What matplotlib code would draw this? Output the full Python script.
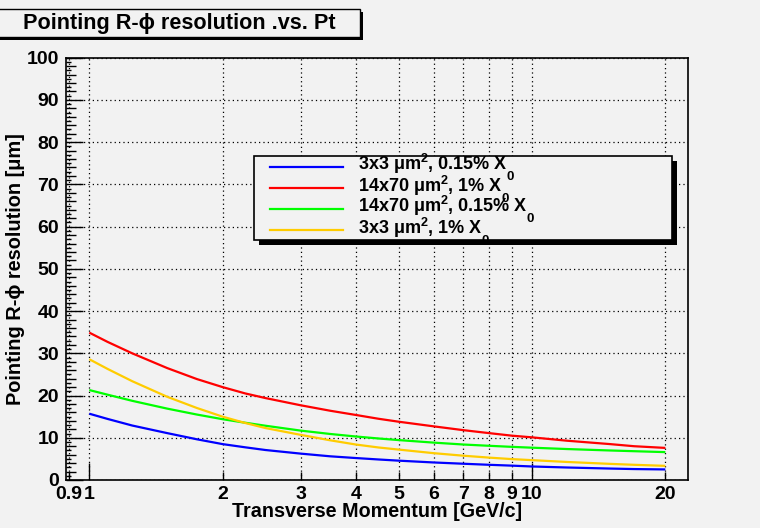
import matplotlib
matplotlib.use("Agg")
import matplotlib.pyplot as plt
from matplotlib.patches import Rectangle
from matplotlib.lines import Line2D
from matplotlib.ticker import FixedLocator, FixedFormatter, NullFormatter

plt.rcParams['font.family'] = ['Liberation Sans', 'DejaVu Sans']
plt.rcParams['font.weight'] = 'bold'
plt.rcParams['mathtext.fontset'] = 'custom'
plt.rcParams['mathtext.bf'] = 'Liberation Sans:bold'
plt.rcParams['mathtext.rm'] = 'Liberation Sans:bold'
plt.rcParams['mathtext.default'] = 'bf'

# ---- data ----
pt = [1, 1.1, 1.25, 1.5, 1.75, 2, 2.25, 2.5, 3, 3.5, 4, 4.5, 5, 6, 7, 8, 9, 10, 12, 15, 17, 20]
res_3x3_015 = [15.7, 14.46, 12.9, 11.1, 9.64, 8.5, 7.74, 7.1, 6.25, 5.61, 5.2, 4.86, 4.58, 4.15, 3.85,
               3.6, 3.4, 3.2, 2.96, 2.71, 2.59, 2.5]
res_14x70_1 = [34.9, 32.7, 30.0, 26.5, 23.9, 22.0, 20.5, 19.4, 17.7, 16.4, 15.4, 14.5, 13.8, 12.7, 11.8,
               11.1, 10.5, 10.1, 9.3, 8.5, 8.0, 7.6]
res_14x70_015 = [21.3, 20.2, 18.75, 16.9, 15.5, 14.4, 13.56, 12.85, 11.7, 10.9, 10.3, 9.83, 9.45, 8.85, 8.4,
                 8.1, 7.85, 7.65, 7.33, 6.99, 6.82, 6.6]
res_3x3_1 = [28.6, 26.3, 23.4, 19.7, 17.05, 15.0, 13.5, 12.3, 10.7, 9.4, 8.4, 7.7, 7.2, 6.35, 5.75,
             5.3, 4.95, 4.7, 4.27, 3.82, 3.6, 3.35]

series_vals = [res_3x3_015, res_14x70_1, res_14x70_015, res_3x3_1]
series_colors = ['#0000ff', '#ff0000', '#00ff00', '#ffcc00']
legend_main = [r"3x3 μm$^2$, 0.15% X", r"14x70 μm$^2$, 1% X", r"14x70 μm$^2$, 0.15% X", r"3x3 μm$^2$, 1% X"]
legend_sub = ['0', '0', '0', '0']

x_tick_vals = [0.9, 1, 2, 3, 4, 5, 6, 7, 8, 9, 10, 20]
x_tick_labels = ['0.9', '1', '2', '3', '4', '5', '6', '7', '8', '9', '10', '20']
y_tick_vals = [0, 10, 20, 30, 40, 50, 60, 70, 80, 90, 100]

title = "Pointing R-ϕ resolution .vs. Pt"
xlabel = "Transverse Momentum [GeV/c]"
ylabel = "Pointing R-ϕ resolution [μm]"

# ---- figure ----
W, H = 760, 528
BG = '#f2f2f2'
fig = plt.figure(figsize=(W / 100, H / 100), dpi=100, facecolor=BG)

def fx(px):
    return px / W

def fy(py):
    return 1 - py / H

L, R, T, B = 66, 688, 57.7, 480
ax = fig.add_axes([fx(L), fy(B), fx(R) - fx(L), fy(T) - fy(B)])
ax.set_facecolor(BG)

for vals, col in zip(series_vals, series_colors):
    ax.plot(pt, vals, color=col, lw=1.6, solid_capstyle='butt', solid_joinstyle='round')

ax.set_xscale('log')
ax.set_xlim(0.886, 22.5)
ax.set_ylim(0, 100)

# x ticks
major_x = [1, 10]
minor_x = [v for v in x_tick_vals if v not in major_x]
ax.xaxis.set_major_locator(FixedLocator(major_x))
ax.xaxis.set_major_formatter(FixedFormatter(['1', '10']))
ax.xaxis.set_minor_locator(FixedLocator(minor_x))
ax.xaxis.set_minor_formatter(FixedFormatter([x_tick_labels[x_tick_vals.index(v)] for v in minor_x]))

ax.yaxis.set_major_locator(FixedLocator(y_tick_vals))
ax.yaxis.set_minor_locator(FixedLocator(list(range(2, 100, 2))))
ax.yaxis.set_minor_formatter(NullFormatter())

ax.tick_params(axis='both', which='both', direction='in', top=False, right=False,
               colors='black', width=1.0)
ax.tick_params(axis='x', which='both', labelsize=14, pad=4)
ax.tick_params(axis='x', which='major', length=12)
ax.tick_params(axis='x', which='minor', length=6)
ax.tick_params(axis='y', which='major', length=12, labelsize=14, pad=5)
ax.tick_params(axis='y', which='minor', length=7)

# tertiary ticks on y (every unit)
sec = ax.secondary_yaxis('left')
sec.set_yticks([v for v in range(1, 100, 2)])
sec.tick_params(direction='in', length=3.5, width=1.0, labelleft=False)
sec.spines['left'].set_visible(False)
sec.yaxis.set_major_formatter(NullFormatter())

# grid
ax.grid(True, which='both', axis='x', color='black', linestyle=(0, (1, 2.5)), lw=0.9)
ax.grid(True, which='major', axis='y', color='black', linestyle=(0, (1, 2.5)), lw=0.9)

for s in ax.spines.values():
    s.set_linewidth(1.2)
    s.set_color('black')

ax.set_xlabel(xlabel, fontsize=14.2, fontweight='bold')
ax.xaxis.set_label_coords(0.5, (B - 502) / (B - T))
ax.xaxis.label.set_verticalalignment('top')
ax.set_ylabel(ylabel, fontsize=14.4, fontweight='bold')
ax.yaxis.set_label_coords((25 - L) / (R - L), 0.5)

# ---- title box ----
tb_l, tb_r, tb_t, tb_b = -5, 360, 9, 37
fig.patches.append(Rectangle((fx(tb_l + 2.5), fy(tb_b + 2.5)), fx(tb_r) - fx(tb_l), fy(tb_t) - fy(tb_b),
                             transform=fig.transFigure, facecolor='black', edgecolor='none', zorder=1))
fig.patches.append(Rectangle((fx(tb_l), fy(tb_b)), fx(tb_r) - fx(tb_l), fy(tb_t) - fy(tb_b),
                             transform=fig.transFigure, facecolor=BG, edgecolor='black', lw=1.0, zorder=2))
fig.text(fx(179), fy(23.5), title, ha='center', va='center', fontsize=15.6, fontweight='bold', zorder=3)

# ---- legend ----
lg_l, lg_r, lg_t, lg_b = 254, 672, 156, 240
sh = 5
fig.patches.append(Rectangle((fx(lg_l + sh), fy(lg_b + sh)), fx(lg_r) - fx(lg_l), fy(lg_t) - fy(lg_b),
                             transform=fig.transFigure, facecolor='black', edgecolor='none', zorder=5))
fig.patches.append(Rectangle((fx(lg_l), fy(lg_b)), fx(lg_r) - fx(lg_l), fy(lg_t) - fy(lg_b),
                             transform=fig.transFigure, facecolor=BG, edgecolor='black', lw=1.2, zorder=6))
row_y = [166.7, 188, 209, 230]
renderer = fig.canvas.get_renderer()
for col, main, sub, yy in zip(series_colors, legend_main, legend_sub, row_y):
    fig.lines.append(Line2D([fx(270), fx(343)], [fy(yy), fy(yy)], transform=fig.transFigure,
                            color=col, lw=1.6, zorder=7))
    t = fig.text(fx(358), fy(yy + 3.5), main, ha='left', va='baseline', fontsize=13,
                 fontweight='bold', zorder=8)
    bb = t.get_window_extent(renderer=renderer)
    fig.text(fx(bb.x1 - 1.5), fy(yy + 13.5), sub, ha='left', va='baseline', fontsize=9.5,
             fontweight='bold', zorder=8)

fig.savefig('out.png', dpi=100, facecolor=BG)
